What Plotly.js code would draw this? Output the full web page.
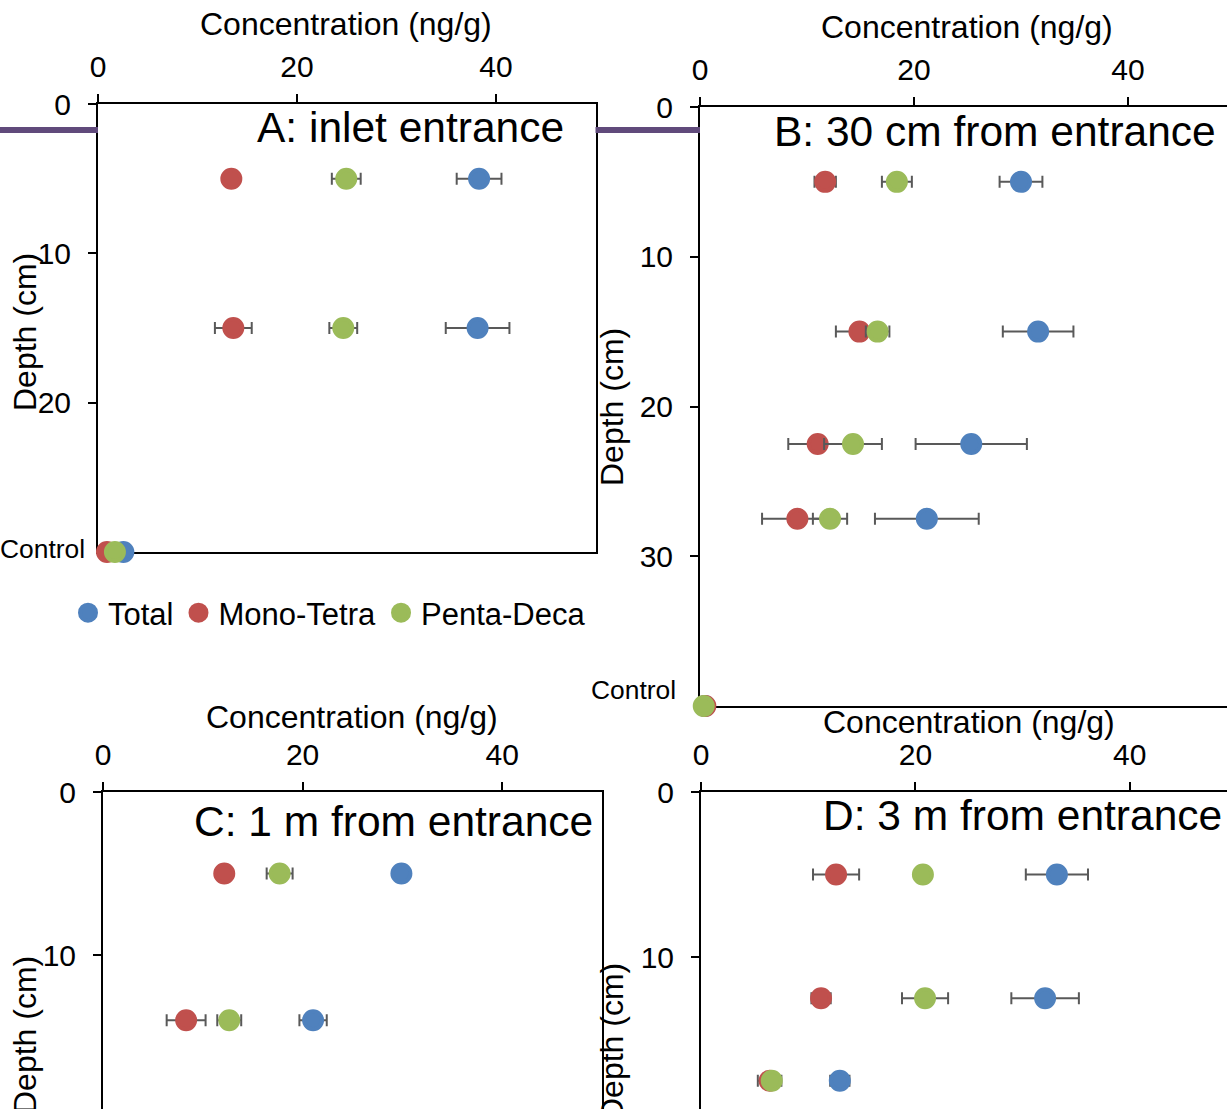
<!DOCTYPE html>
<html>
<head>
<meta charset="utf-8">
<script src="https://cdn.plot.ly/plotly-3.0.1.min.js"></script>
<style>
html,body{margin:0;padding:0;overflow:hidden;background:#fff}
#wrap{width:1227px;height:1109px;overflow:hidden;position:relative;background:#fff}
#chart{width:1300px;height:1320px}
</style>
</head>
<body>
<div id="wrap"><div id="chart"></div></div>
<script>
// ---------------- data ----------------
const seriesNames = ['Total', 'Mono-Tetra', 'Penta-Deca'];
const xTickVals = [0, 20, 40];
const xTickText = ['0', '20', '40'];

// Panel A: inlet entrance
const depthA = [5, 15, 30];
const totalA = [38.3, 38.15, 2.55];
const totalErrA = [2.25, 3.2, 0];
const monoA = [13.4, 13.6, 0.9];
const monoErrA = [0.5, 1.85, 0];
const pentaA = [24.95, 24.65, 1.7];
const pentaErrA = [1.45, 1.4, 0];
const yTicksA = [0, 10, 20];

// Panel B: 30 cm from entrance
const depthB = [5, 15, 22.5, 27.5, 40];
const totalB = [30.0, 31.6, 25.35, 21.2, 0.45];
const totalErrB = [2.0, 3.3, 5.2, 4.85, 0];
const monoB = [11.7, 14.9, 11.0, 9.1, 0.5];
const monoErrB = [1.0, 2.2, 2.75, 3.3, 0];
const pentaB = [18.4, 16.6, 14.3, 12.15, 0.35];
const pentaErrB = [1.4, 1.1, 2.7, 1.6, 0];
const yTicksB = [0, 10, 20, 30];

// Panel C: 1 m from entrance
const depthC = [5, 14];
const totalC = [29.9, 21.05];
const totalErrC = [0.6, 1.37];
const monoC = [12.15, 8.33];
const monoErrC = [0.6, 1.95];
const pentaC = [17.7, 12.65];
const pentaErrC = [1.3, 1.2];
const yTicksC = [0, 10, 20];

// Panel D: 3 m from entrance
const depthD = [5, 12.5, 17.5];
const totalD = [33.2, 32.1, 12.95];
const totalErrD = [2.9, 3.15, 0.9];
const monoD = [12.6, 11.2, 6.4];
const monoErrD = [2.15, 0.9, 1.1];
const pentaD = [20.7, 20.9, 6.6];
const pentaErrD = [0.6, 2.15, 0.6];
const yTicksD = [0, 10, 20];

const panelLabels = ['A: inlet entrance', 'B: 30 cm from entrance', 'C: 1 m from entrance', 'D: 3 m from entrance'];
const xTitle = 'Concentration (ng/g)';
const yTitle = 'Depth (cm)';
const controlLabel = 'Control';

// ---------------- styling ----------------
const W = 1300, H = 1320;
const FONT = 'Liberation Sans, Arial, sans-serif';
const colors = ['#4F81BD', '#C0504D', '#9BBB59'];
const px = v => v / W;
const py = v => 1 - v / H;

function makeTraces(depth, xs, errs, xa, ya, legend) {
  return xs.map((xv, i) => ({
    type: 'scatter', mode: 'markers',
    name: seriesNames[i],
    x: xv, y: depth,
    xaxis: xa, yaxis: ya,
    showlegend: legend,
    cliponaxis: false,
    marker: {color: colors[i], size: 18, line: {width: 4, color: colors[i]}},
    error_x: {type: 'data', array: errs[i], color: '#595959', thickness: 2, width: 6, visible: true},
    hoverinfo: 'x+y'
  }));
}

const traces = [].concat(
  makeTraces(depthA, [totalA, monoA, pentaA], [totalErrA, monoErrA, pentaErrA], 'x', 'y', true),
  makeTraces(depthB, [totalB, monoB, pentaB], [totalErrB, monoErrB, pentaErrB], 'x2', 'y2', false),
  makeTraces(depthC, [totalC, monoC, pentaC], [totalErrC, monoErrC, pentaErrC], 'x3', 'y3', false),
  makeTraces(depthD, [totalD, monoD, pentaD], [totalErrD, monoErrD, pentaErrD], 'x4', 'y4', false)
);

const tickFont = {family: FONT, size: 30, color: '#000'};
function xAxis(x0, x1, range, anchor) {
  return {
    domain: [px(x0), px(x1)], range: range, anchor: anchor, side: 'top',
    tickmode: 'array', tickvals: xTickVals, ticktext: xTickText,
    ticks: 'outside', ticklen: 8, tickwidth: 2, tickcolor: '#000',
    showline: true, linewidth: 2, linecolor: '#000', mirror: true,
    showgrid: false, zeroline: false, tickfont: tickFont,
    ticklabelstandoff: 5, layer: 'below traces', fixedrange: true
  };
}
function yAxis(y0, y1, range, tickvals, anchor) {
  return {
    domain: [py(y1), py(y0)], range: range, anchor: anchor,
    tickmode: 'array', tickvals: tickvals, ticktext: tickvals.map(String),
    ticks: 'outside', ticklen: 8, tickwidth: 2, tickcolor: '#000',
    showline: true, linewidth: 2, linecolor: '#000', mirror: true,
    showgrid: false, zeroline: false, tickfont: tickFont,
    ticklabelstandoff: 11, layer: 'below traces', fixedrange: true
  };
}

function ann(text, x, y, size, opts) {
  return Object.assign({
    text: text, xref: 'paper', yref: 'paper', x: px(x), y: py(y),
    xanchor: 'center', yanchor: 'middle', showarrow: false,
    font: {family: FONT, size: size, color: '#000'}
  }, opts || {});
}

const annotations = [
  ann(xTitle, 346, 24, 32), ann(xTitle, 967, 27, 32),
  ann(xTitle, 352, 717, 32), ann(xTitle, 969, 722, 32),
  ann(yTitle, 25, 332, 32, {textangle: -90}), ann(yTitle, 612, 407, 32, {textangle: -90}),
  ann(yTitle, 25, 1035, 32, {textangle: -90}), ann(yTitle, 612, 1042, 32, {textangle: -90}),
  ann(panelLabels[0], 255, 128, 42.5, {xanchor: 'left'}),
  ann(panelLabels[1], 772, 131, 42.5, {xanchor: 'left'}),
  ann(panelLabels[2], 192, 821, 42.5, {xanchor: 'left'}),
  ann(panelLabels[3], 821, 815, 42.5, {xanchor: 'left'}),
  ann(controlLabel, -2, 549, 26.4, {xanchor: 'left'}),
  ann(controlLabel, 589, 690, 26.4, {xanchor: 'left'})
];

const shapes = [
  {type: 'line', xref: 'paper', yref: 'paper', x0: 0, x1: px(98), y0: py(130), y1: py(130), line: {color: '#604A7B', width: 6}},
  {type: 'line', xref: 'paper', yref: 'paper', x0: px(595.5), x1: px(700), y0: py(130), y1: py(130), line: {color: '#604A7B', width: 6}}
];

const layout = {
  width: W, height: H,
  margin: {l: 0, r: 0, t: 0, b: 0, pad: 0},
  paper_bgcolor: '#fff', plot_bgcolor: 'rgba(0,0,0,0)',
  font: {family: FONT, color: '#000'},
  showlegend: true,
  legend: {
    orientation: 'h', x: px(68), y: py(613), xanchor: 'left', yanchor: 'middle',
    font: {family: FONT, size: 31, color: '#000'}, bgcolor: 'rgba(0,0,0,0)',
    itemclick: false, itemdoubleclick: false, tracegroupgap: 0
  },
  xaxis: xAxis(98, 595.5, [0, 50], 'y'),
  yaxis: yAxis(104, 552, [30, 0], yTicksA, 'x'),
  xaxis2: xAxis(700, 1235, [0, 50], 'y2'),
  yaxis2: yAxis(107, 706, [40, 0], yTicksB, 'x2'),
  xaxis3: xAxis(103, 602, [0, 50], 'y3'),
  yaxis3: yAxis(792, 1281, [30, 0], yTicksC, 'x3'),
  xaxis4: xAxis(701, 1237, [0, 50], 'y4'),
  yaxis4: yAxis(792, 1287, [30, 0], yTicksD, 'x4'),
  annotations: annotations,
  shapes: shapes
};

Plotly.newPlot('chart', traces, layout, {displayModeBar: false, staticPlot: true});
</script>
</body>
</html>
